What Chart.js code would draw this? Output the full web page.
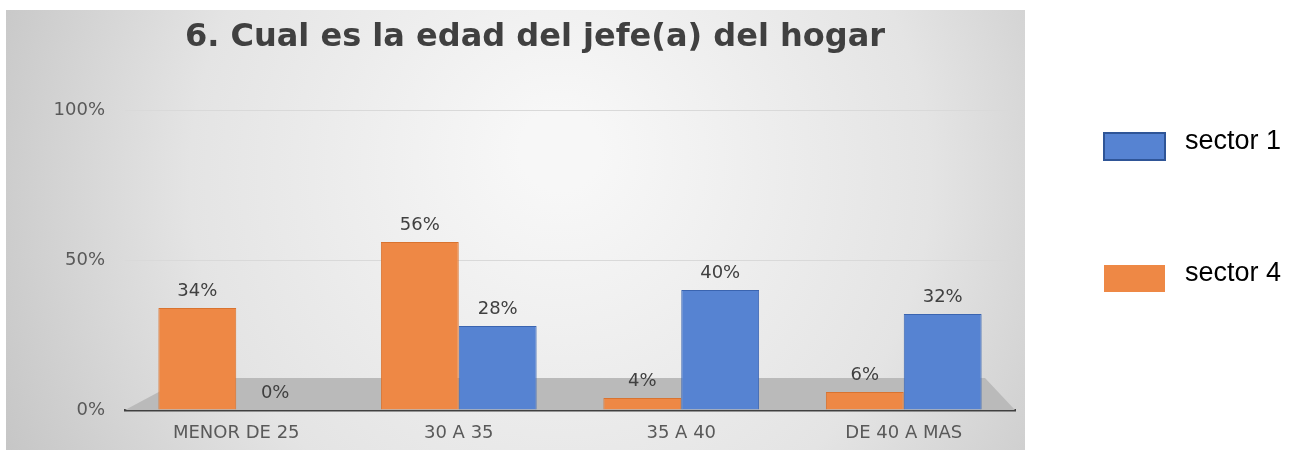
<!DOCTYPE html>
<html>
<head>
<meta charset="utf-8">
<script src="https://cdn.jsdelivr.net/npm/chart.js@4"></script>
<style>
  html, body { margin: 0; padding: 0; background: #ffffff; }
  #wrap { width: 1303px; height: 453px; }
</style>
</head>
<body>
<div id="wrap"><canvas id="barChart" width="1303" height="453"></canvas></div>
<script>
const titulo = "6. Cual es la edad del jefe(a) del hogar";
const categorias = ["MENOR DE 25", "30 A 35", "35 A 40", "DE 40 A MAS"];
const sector4 = [34, 56, 4, 6];
const sector1 = [0, 28, 40, 32];
const ticksY = [0, 50, 100];

const NARANJA = "#EE8845";
const AZUL = "#5683D2";

// fondo gris con degradado, piso y leyenda a la derecha
const fondo = {
  id: "fondo",
  beforeDraw(chart) {
    const { ctx } = chart;
    const x0 = 6, y0 = 10, x1 = 1025, y1 = 450;
    const g = ctx.createRadialGradient(560, 150, 40, 560, 200, 640);
    g.addColorStop(0, "#f7f7f7");
    g.addColorStop(0.55, "#e4e4e4");
    g.addColorStop(1, "#c2c2c2");
    ctx.save();
    ctx.fillStyle = g;
    ctx.fillRect(x0, y0, x1 - x0, y1 - y0);
    ctx.restore();
  },
  beforeDatasetsDraw(chart) {
    const { ctx, chartArea: a } = chart;
    ctx.save();
    ctx.fillStyle = "#bababa";
    ctx.beginPath();
    ctx.moveTo(a.left, a.bottom);
    ctx.lineTo(a.left + 60, a.bottom - 32);
    ctx.lineTo(a.right - 30, a.bottom - 32);
    ctx.lineTo(a.right, a.bottom);
    ctx.closePath();
    ctx.fill();
    ctx.restore();
  },
  afterDatasetsDraw(chart) {
    const { ctx } = chart;
    ctx.save();
    ctx.font = "18px 'DejaVu Sans'";
    ctx.fillStyle = "#404040";
    ctx.textAlign = "center";
    ctx.textBaseline = "bottom";
    chart.data.datasets.forEach((ds, i) => {
      chart.getDatasetMeta(i).data.forEach((bar, j) => {
        ctx.fillText(ds.data[j] + "%", bar.x, bar.y - 8);
      });
    });
    ctx.restore();
  },
  afterDraw(chart) {
    const { ctx } = chart;
    const orden = [1, 0];
    const ys = [146, 278];
    ctx.save();
    ctx.font = "27px 'Liberation Sans'";
    ctx.textBaseline = "middle";
    orden.forEach((idx, k) => {
      const ds = chart.data.datasets[idx];
      ctx.fillStyle = ds.backgroundColor;
      ctx.fillRect(1104, ys[k] - 13, 61, 27);
      if (idx === 1) {
        ctx.strokeStyle = "#2F5597";
        ctx.lineWidth = 2;
        ctx.strokeRect(1104, ys[k] - 13, 61, 27);
      }
      ctx.fillStyle = "#000000";
      ctx.fillText(ds.label, 1185, ys[k] - 4);
    });
    ctx.restore();
  }
};

new Chart(document.getElementById("barChart").getContext("2d"), {
  type: "bar",
  data: {
    labels: categorias,
    datasets: [
      { label: "sector 4", data: sector4, backgroundColor: NARANJA, borderColor: "#D9732F", borderWidth: 1 },
      { label: "sector 1", data: sector1, backgroundColor: AZUL, borderColor: "#3A64B0", borderWidth: 1 }
    ]
  },
  options: {
    responsive: false,
    animation: false,
    categoryPercentage: 0.7,
    barPercentage: 1,
    layout: { padding: { top: 12, right: 288, bottom: 3, left: 55 } },
    plugins: {
      legend: { display: false },
      tooltip: { enabled: false },
      title: {
        display: true,
        text: titulo,
        color: "#404040",
        font: { family: "'DejaVu Sans'", size: 32, weight: "bold" },
        padding: { top: 6, bottom: 53.6 }
      }
    },
    scales: {
      x: {
        afterFit(scale) { scale.height = 40; },
        grid: { display: false, drawTicks: false },
        border: { display: true, color: "#404040", width: 2.5 },
        ticks: { color: "#595959", font: { family: "'DejaVu Sans'", size: 18 }, padding: 13 }
      },
      y: {
        min: 0,
        max: 100,
        afterFit(scale) { scale.width = 70; },
        afterBuildTicks(scale) { scale.ticks = ticksY.map(v => ({ value: v })); },
        grid: {
          drawTicks: false,
          color: ctx => ctx.tick && ctx.tick.value === 0 ? "rgba(0,0,0,0)" : "#d9d9d9"
        },
        border: { display: false },
        ticks: {
          color: "#595959",
          font: { family: "'DejaVu Sans'", size: 18 },
          padding: 20,
          callback: v => v + "%"
        }
      }
    }
  },
  plugins: [fondo]
});
</script>
</body>
</html>
